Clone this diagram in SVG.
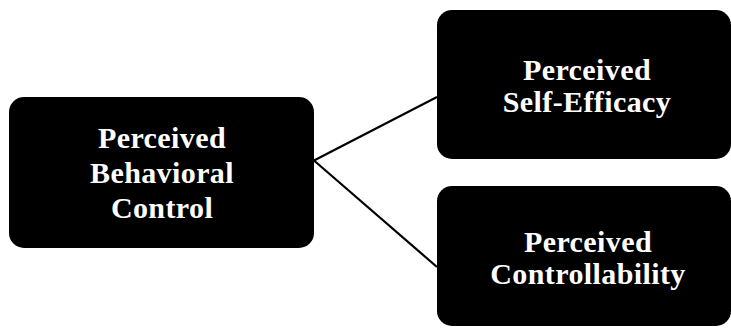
<svg xmlns="http://www.w3.org/2000/svg" width="731" height="330" viewBox="0 0 731 330">
<style>
.box{fill:#000}
.t{fill:#fff;font-family:"Liberation Serif","Times New Roman",serif;font-weight:bold;font-size:30px;text-anchor:middle;letter-spacing:0.4px}
.c{stroke:#000;stroke-width:2.2;fill:none}
</style>
<rect width="731" height="330" fill="#fff"/>
<g id="connectors">
<line class="c" x1="314" y1="160.5" x2="437" y2="97"/>
<line class="c" x1="314" y1="160.5" x2="437" y2="267"/>
</g>
<g id="pbc">
<rect class="box" x="9" y="97" width="305" height="151" rx="15"/>
<text class="t" x="162" y="148">Perceived</text>
<text class="t" x="162" y="183">Behavioral</text>
<text class="t" x="162" y="218">Control</text>
</g>
<g id="pse">
<rect class="box" x="437" y="10" width="294" height="149" rx="15"/>
<text class="t" x="587" y="80">Perceived</text>
<text class="t" x="587" y="112">Self-Efficacy</text>
</g>
<g id="pc">
<rect class="box" x="437" y="186" width="294" height="140" rx="15"/>
<text class="t" x="588" y="252">Perceived</text>
<text class="t" x="588" y="284">Controllability</text>
</g>
</svg>
